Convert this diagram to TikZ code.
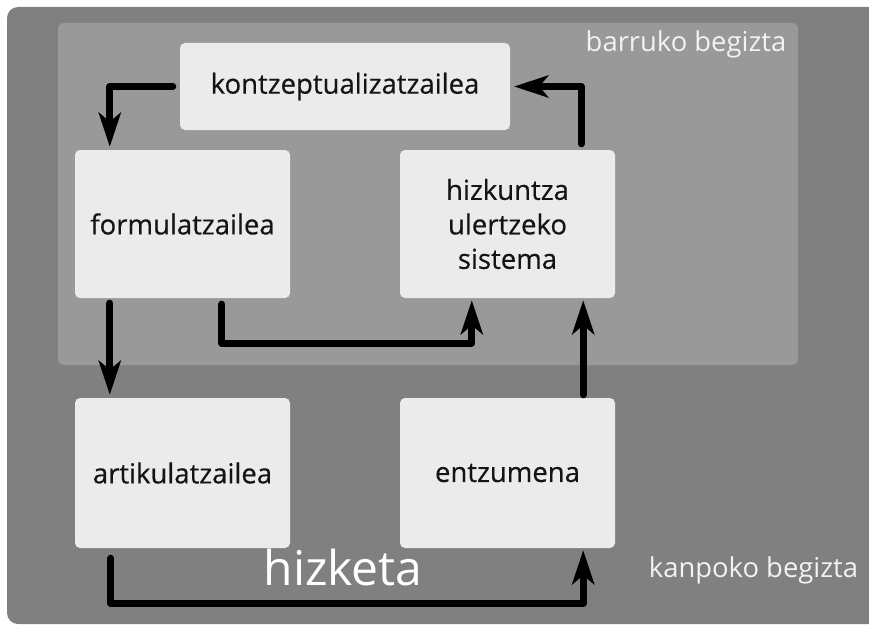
\documentclass[tikz,border=0pt]{standalone}
\usepackage{fontspec}
\setmainfont{Open Sans}
\newfontfamily\boxfont[FakeBold=0.5]{Open Sans}
\usetikzlibrary{arrows.meta,calc}

\definecolor{outerloop}{HTML}{808080}
\definecolor{innerloop}{HTML}{999999}
\definecolor{boxfill}{HTML}{EBEBEB}
\definecolor{labelwhite}{HTML}{F2F2F2}

\tikzset{
  procbox/.style={fill=boxfill, rounded corners=5pt, inner sep=0pt,
    minimum width=215pt, minimum height=148pt, align=center,
    font=\boxfont\fontsize{27.5}{34.5}\selectfont, text=black!92},
  flow/.style={line width=7pt, line cap=round, line join=round,
    -{Stealth[length=34pt, width=22pt, inset=9pt]}},
  looplabel/.style={text=labelwhite, anchor=base, inner sep=0pt,
    font=\fontsize{27.4}{30}\selectfont},
}

\begin{document}
\begin{tikzpicture}[x=1pt, y=-1pt]
  \useasboundingbox (0,0) rectangle (869,626);
  \clip (0,0) rectangle (869,626);

  % outer and inner loop backgrounds
  \fill[outerloop, rounded corners=11pt] (7,7) rectangle (890,624);
  \fill[innerloop, rounded corners=6pt] (58,23) rectangle (798,365);

  % processing components
  \node[procbox, minimum width=330pt, minimum height=87pt] (kon) at (345,86.5) {kontzeptualizatzailea};
  \node[procbox] (form) at (182.5,224) {formulatzailea};
  \node[procbox] (hus) at (507.5,224) {hizkuntza\\ulertzeko\\sistema};
  \node[procbox, minimum height=150pt] (art) at (182.5,473) {artikulatzailea};
  \node[procbox, minimum height=150pt] (ent) at (507.5,473) {entzumena};

  % loop labels
  \node[looplabel] (inner) at (686,52) {barruko begizta};
  \node[looplabel] (outer) at (753.5,577) {kanpoko begizta};
  \node[looplabel, font=\fontsize{48}{54}\selectfont, text=white] (speech) at (343,585) {hizketa};

  % inner loop connectors
  \draw[flow] ([xshift=-7pt]kon.west) -| ([xshift=35pt,yshift=3pt]form.north west);
  \draw[flow] ([xshift=-34pt,yshift=6pt]hus.north east) |- ([xshift=4pt]kon.east);
  \draw[flow] ([xshift=147pt,yshift=-6pt]form.south west) -- ++(0,39)
     -| ([xshift=72pt,yshift=-2pt]hus.south west);

  % outer loop connectors
  \draw[flow] ([xshift=35pt,yshift=-5pt]form.south west) -- ([xshift=35pt,yshift=3pt]art.north west);
  \draw[flow] ([xshift=-32pt,yshift=3pt]ent.north east) -- ([xshift=-32pt,yshift=-2pt]hus.south east);
  \draw[flow] ([xshift=36pt,yshift=-10pt]art.south west) -- ++(0,45)
     -| ([xshift=-32pt,yshift=-2pt]ent.south east);
\end{tikzpicture}
\end{document}
